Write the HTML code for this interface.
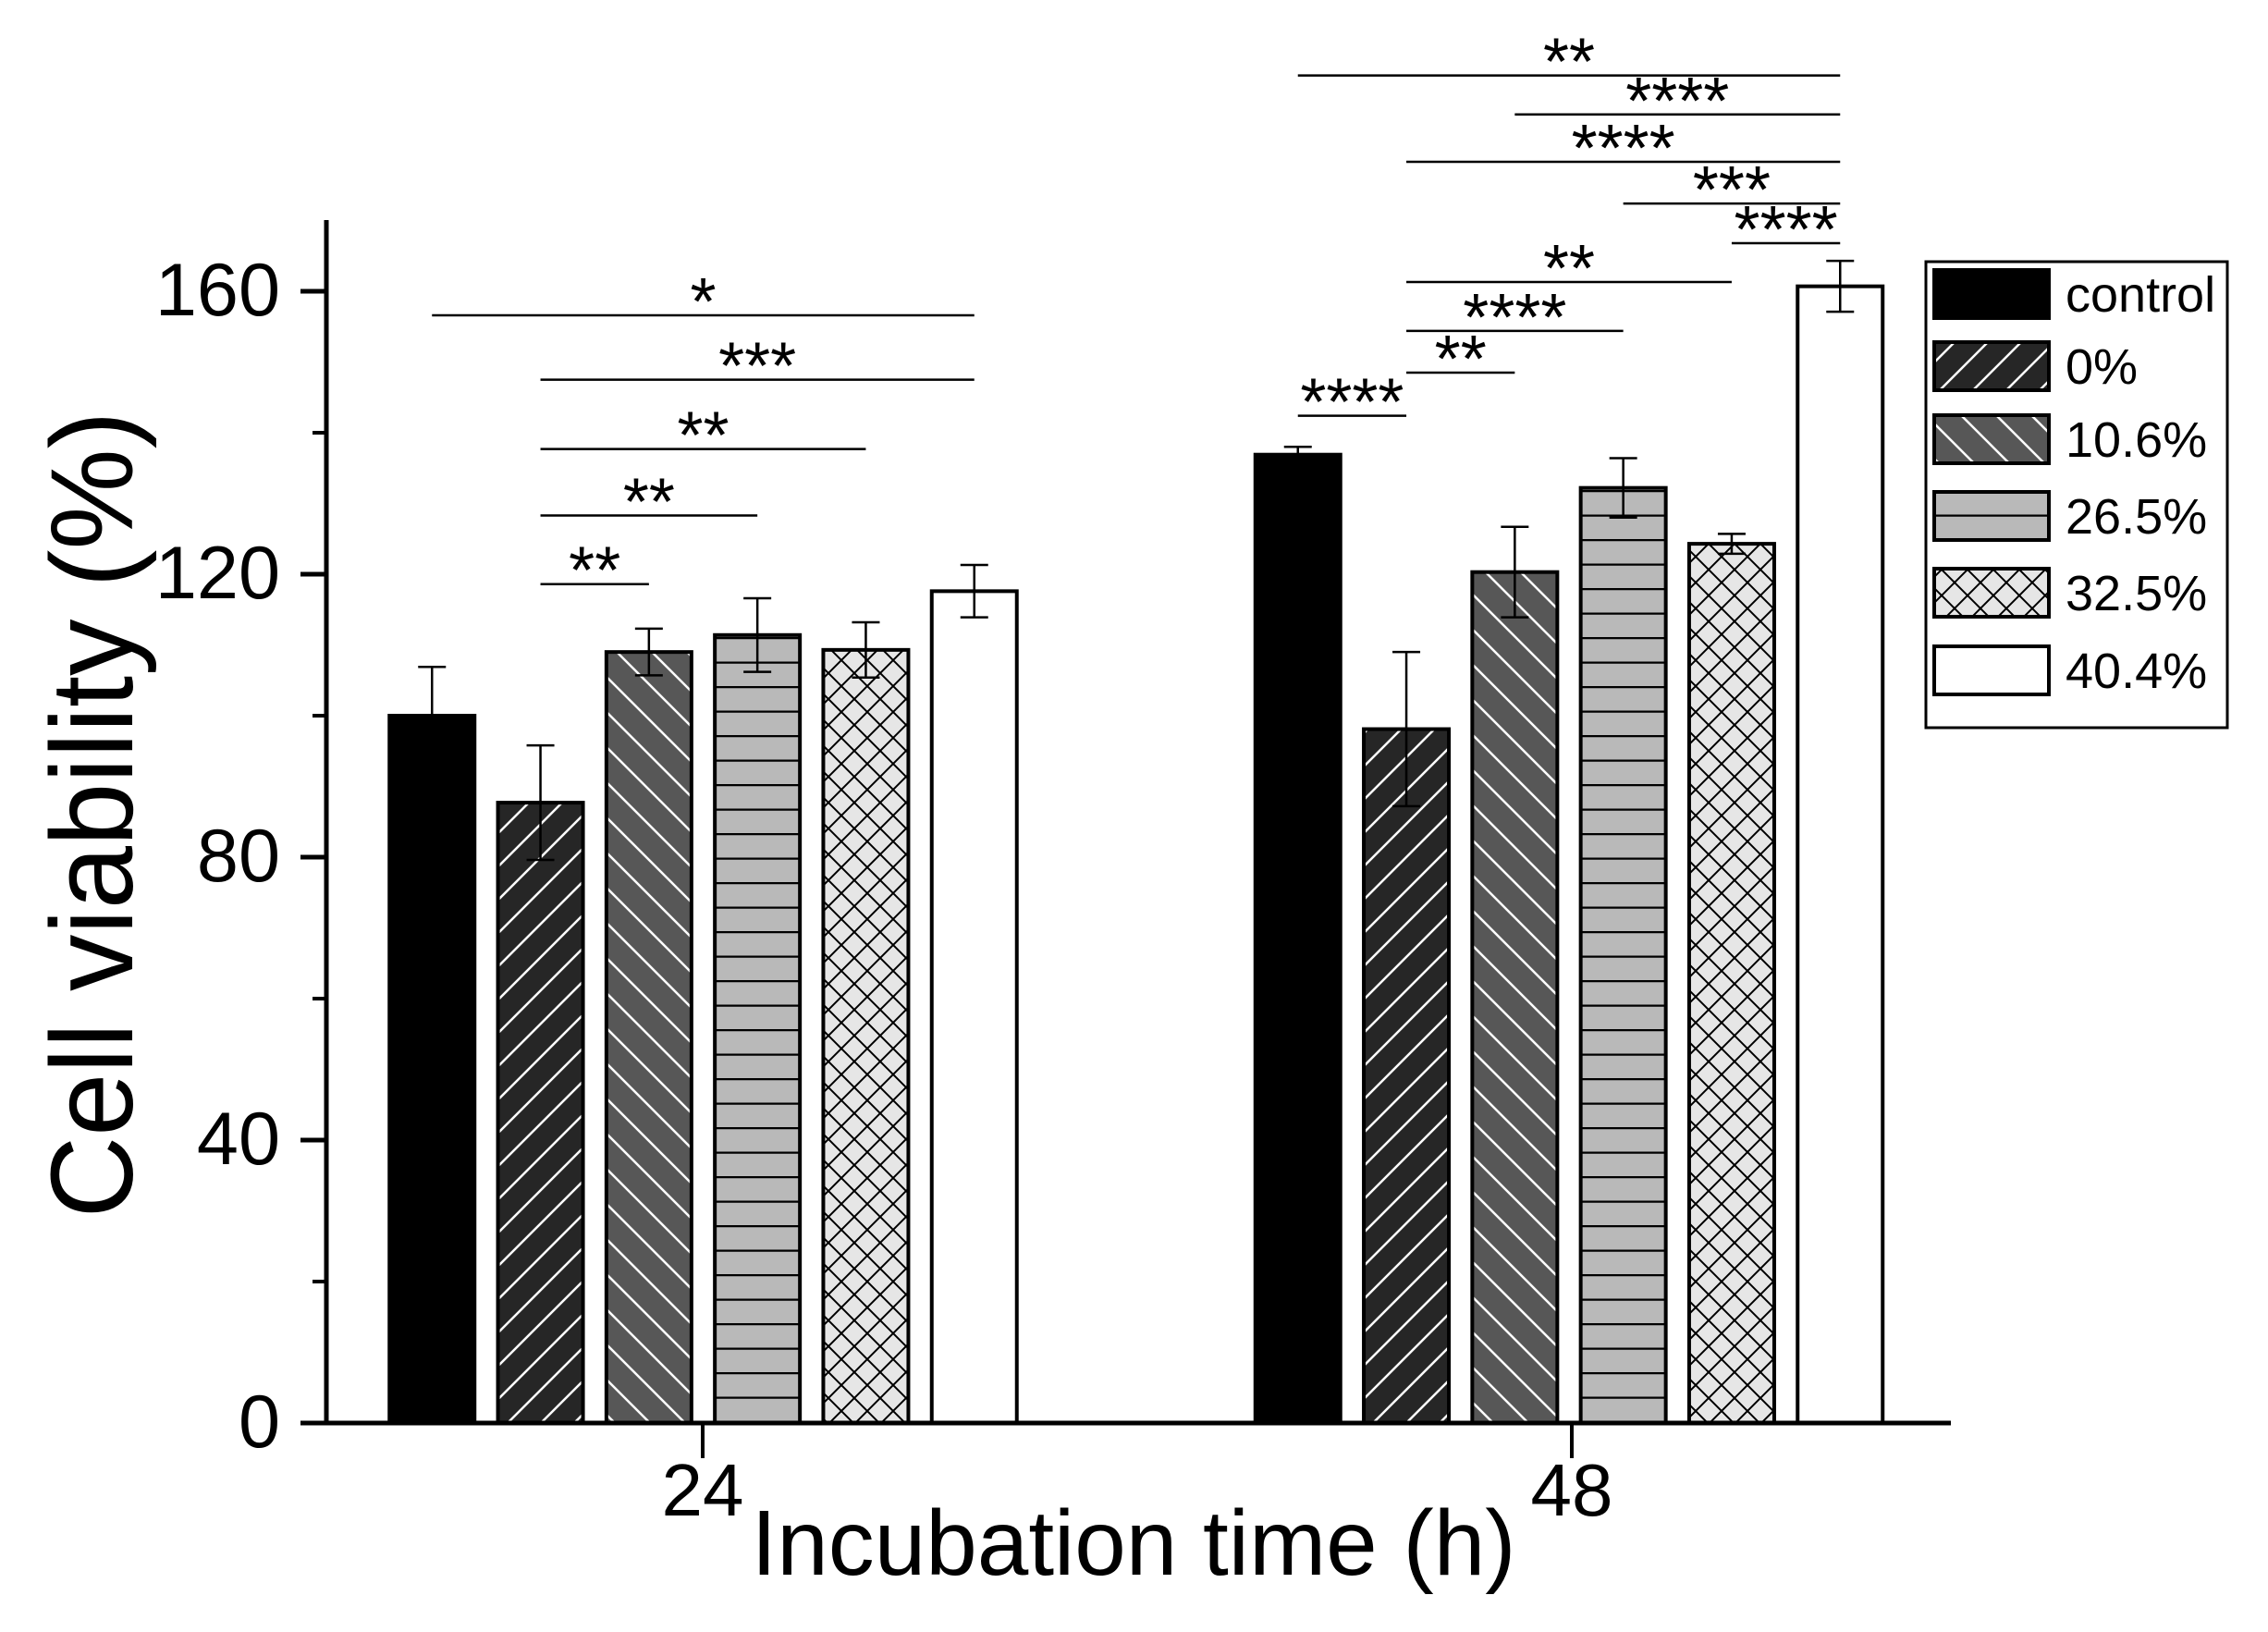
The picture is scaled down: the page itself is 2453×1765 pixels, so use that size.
<!DOCTYPE html>
<html><head><meta charset="utf-8">
<style>
html,body{margin:0;padding:0;background:#fff;}
svg{display:block;font-family:"Liberation Sans",Arial,sans-serif;}
</style></head>
<body>
<svg id="chart" width="2453" height="1765" viewBox="0 0 2453 1765" xmlns="http://www.w3.org/2000/svg">
<defs>
  <pattern id="p0" patternUnits="userSpaceOnUse" width="36" height="36">
    <rect width="36" height="36" fill="#262626"/>
    <path d="M0,36 L36,0 M-9,9 L9,-9 M27,45 L45,27" stroke="#fff" stroke-width="2.5"/>
  </pattern>
  <pattern id="p1" patternUnits="userSpaceOnUse" width="38" height="38">
    <rect width="38" height="38" fill="#575757"/>
    <path d="M0,0 L38,38 M-9,29 L9,47 M29,-9 L47,9" stroke="#fff" stroke-width="2.5"/>
  </pattern>
  <pattern id="p2" patternUnits="userSpaceOnUse" width="30" height="26.5">
    <rect width="30" height="26.5" fill="#b9b9b9"/>
    <path d="M0,1 L30,1" stroke="#000" stroke-width="2.5"/>
  </pattern>
  <pattern id="p3" patternUnits="userSpaceOnUse" width="28" height="28">
    <rect width="28" height="28" fill="#e6e6e6"/>
    <path d="M0,0 L28,28 M28,0 L0,28" stroke="#000" stroke-width="2"/>
  </pattern>
</defs>
<g id="plot"></g>
</svg>
<script>
const groups = ["24", "48"];
const seriesNames = ["control", "0%", "10.6%", "26.5%", "32.5%", "40.4%"];
const values24 = [100, 87.7, 109, 111.4, 109.3, 117.6];
const errors24 = [6.9, 8.1, 3.3, 5.2, 3.9, 3.7];
const values48 = [136.9, 98.1, 120.3, 132.2, 124.3, 160.7];
const errors48 = [1.1, 10.9, 6.4, 4.2, 1.4, 3.6];
const yTicks = [0, 40, 80, 120, 160];
const yMinorTicks = [20, 60, 100, 140];
// significance brackets
const sigGroup = [0, 0, 0, 0, 0, 1, 1, 1, 1, 1, 1, 1, 1, 1];
const sigFrom = [0, 1, 1, 1, 1, 0, 2, 1, 3, 4, 1, 1, 1, 0];
const sigTo   = [5, 5, 4, 3, 2, 5, 5, 5, 5, 5, 4, 3, 2, 1];
const sigLabel = ["*", "***", "**", "**", "**", "**", "****", "****", "***", "****", "**", "****", "**", "****"];
const sigY = [156.6, 147.5, 137.7, 128.3, 118.6, 190.5, 185, 178.3, 172.4, 166.8, 161.3, 154.4, 148.5, 142.4];

const fills = ["#000", "url(#p0)", "url(#p1)", "url(#p2)", "url(#p3)", "#fff"];
const NS = "http://www.w3.org/2000/svg";
const g = document.getElementById("plot");
const Y0 = 1539, PX = 7.65, AX = 353;
const groupCenters = [760.5, 1697];
const PITCH = 117.3, BW = 96;
function yS(v){ return Y0 - v*PX; }
function barLeft(gi, si){ return groupCenters[gi] - (5*PITCH + BW)/2 + si*PITCH; }
function el(tag, attrs, parent){
  const e = document.createElementNS(NS, tag);
  for (const k in attrs) e.setAttribute(k, attrs[k]);
  (parent||g).appendChild(e);
  return e;
}

const allVals = [values24, values48], allErr = [errors24, errors48];
groups.forEach((gn, gi) => {
  allVals[gi].forEach((v, si) => {
    const x = barLeft(gi, si);
    const r = el("rect", {x: x+2, y: yS(v), width: BW-4, height: Y0 - yS(v), fill: fills[si], stroke: "#000", "stroke-width": 4});
    
    
    const cx = x + BW/2, e = allErr[gi][si];
    const eb = el("path", {d: `M${cx},${yS(v+e)} L${cx},${yS(v-e)} M${cx-15},${yS(v+e)} L${cx+15},${yS(v+e)} M${cx-15},${yS(v-e)} L${cx+15},${yS(v-e)}`, stroke: "#000", "stroke-width": 2.5, fill: "none"});
    
    
  });
});

const ya = el("line", {x1: AX, y1: 238, x2: AX, y2: Y0+2.5, stroke: "#000", "stroke-width": 5});


const xa = el("line", {x1: AX-2.5, y1: Y0, x2: 2110, y2: Y0, stroke: "#000", "stroke-width": 5});


yTicks.forEach(t => {
  const tk = el("line", {x1: 325, y1: yS(t), x2: AX, y2: yS(t), stroke: "#000", "stroke-width": 5});
  
  
  const lb = el("text", {x: 303, y: yS(t)+26, "text-anchor": "end", "font-size": 81});
  lb.textContent = t;
  
  
});
yMinorTicks.forEach(t => {
  const tk = el("line", {x1: 338, y1: yS(t), x2: AX, y2: yS(t), stroke: "#000", "stroke-width": 4});
  
  
});
const xTickPos = [760, 1700];
groups.forEach((gn, gi) => {
  const tk = el("line", {x1: xTickPos[gi], y1: Y0, x2: xTickPos[gi], y2: 1577, stroke: "#000", "stroke-width": 4});
  
  
  const lb = el("text", {x: xTickPos[gi], y: 1639, "text-anchor": "middle", "font-size": 80});
  lb.textContent = gn;
  
  
});
const xt = el("text", {x: 1226, y: 1703, "text-anchor": "middle", "font-size": 100, textLength: 827, lengthAdjust: "spacingAndGlyphs"});
xt.textContent = "Incubation time (h)";


const yt = el("text", {x: 0, y: 0, "text-anchor": "middle", "font-size": 126, textLength: 873, lengthAdjust: "spacingAndGlyphs", transform: "translate(143,881) rotate(-90)"});
yt.textContent = "Cell viability (%)";



sigLabel.forEach((lab, i) => {
  const gi = sigGroup[i];
  const x1 = barLeft(gi, sigFrom[i]) + BW/2;
  const x2 = barLeft(gi, sigTo[i]) + BW/2;
  const y = yS(sigY[i]);
  const ln = el("line", {x1: x1, y1: y, x2: x2, y2: y, stroke: "#000", "stroke-width": 2.5});
  
  
  const tx = el("text", {x: (x1+x2)/2, y: y + 10, "text-anchor": "middle", "font-size": 72});
  tx.textContent = lab;
  
  
});

const lg = el("g", {});


el("rect", {x: 2083, y: 283, width: 326, height: 504, fill: "#fff", stroke: "#000", "stroke-width": 3}, lg);
const legendY = [290, 368, 447, 530, 613, 697];
seriesNames.forEach((n, si) => {
  const sw = el("rect", {x: 2092, y: legendY[si]+2, width: 124, height: 52, fill: fills[si], stroke: "#000", "stroke-width": 4}, lg);
  
  
  const t = el("text", {x: 2234, y: legendY[si]+47, "font-size": 54}, lg);
  t.textContent = n;
  
  
});
</script>
</body></html>
